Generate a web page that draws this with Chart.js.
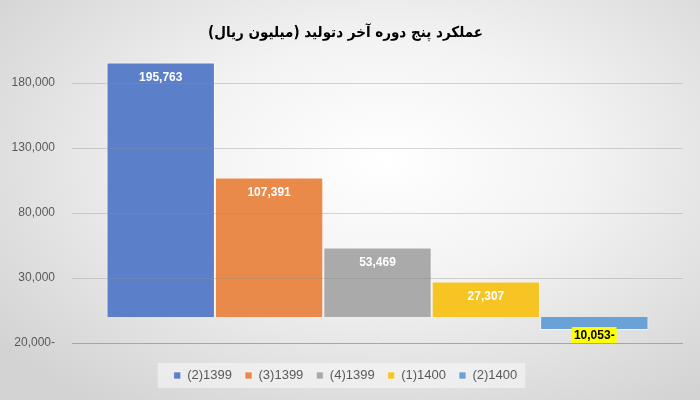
<!DOCTYPE html>
<html>
<head>
<meta charset="utf-8">
<script src="https://cdn.jsdelivr.net/npm/chart.js@4.4.1/dist/chart.umd.min.js"></script>
<style>
  html, body { margin: 0; padding: 0; }
  #wrap {
    width: 700px; height: 400px; position: relative;
    background: radial-gradient(ellipse 70% 75% at 55% 40%, #ffffff 0%, #f3f3f3 40%, #d3d3d3 100%);
  }
</style>
</head>
<body>
<div id="wrap"><canvas id="c" width="700" height="400"></canvas></div>
<script>
/* عملکرد پنج دوره آخر - داده‌ها */
const chartTitle = "عملکرد پنج دوره آخر دتولید (میلیون ریال)";
const periods = ["(2)1399", "(3)1399", "(4)1399", "(1)1400", "(2)1400"];
const values = [195763, 107391, 53469, 27307, -10053];
const yTicks = [-20000, 30000, 80000, 130000, 180000];

const palette = {
  bars: ["#5b80c9", "#ea8a4a", "#aaaaaa", "#f6c524", "#6aa2d7"],
  text: "#595959",
  grid: "rgba(140,140,140,0.35)",
  axis: "#a6a6a6",
};

const fmt = (v) => Math.abs(v).toLocaleString("en-US") + (v < 0 ? "-" : "");

// برچسب مقدار روی ستون‌ها
const valueLabels = {
  id: "valueLabels",
  afterDatasetsDraw(chart) {
    const ctx = chart.ctx;
    ctx.save();
    ctx.font = "bold 12px 'Liberation Sans', Arial, sans-serif";
    ctx.textAlign = "center";
    ctx.textBaseline = "middle";
    chart.data.datasets.forEach((ds, i) => {
      const el = chart.getDatasetMeta(i).data[0];
      const v = ds.data[0];
      const txt = fmt(v);
      if (v >= 0) {
        ctx.fillStyle = "#ffffff";
        ctx.fillText(txt, el.x, el.y + 15);
      } else {
        const w = ctx.measureText(txt).width + 4;
        const cy = el.y + 5;
        ctx.fillStyle = "#ffff00";
        ctx.fillRect(el.x - w / 2, cy - 8, w, 16);
        ctx.fillStyle = "#000000";
        ctx.fillText(txt, el.x, cy + 1);
      }
    });
    ctx.restore();
  },
};

// کادر روشن پشت راهنما
const legendBox = {
  id: "legendBox",
  beforeDraw(chart) {
    const boxes = chart.legend && chart.legend.legendHitBoxes;
    if (!boxes || !boxes.length) return;
    const l = Math.min(...boxes.map((b) => b.left)) - 16;
    const r = Math.max(...boxes.map((b) => b.left + b.width)) + 8;
    const t = Math.min(...boxes.map((b) => b.top)) - 6;
    const btm = Math.max(...boxes.map((b) => b.top + b.height)) + 6;
    const ctx = chart.ctx;
    ctx.save();
    ctx.fillStyle = "rgba(255,255,255,0.45)";
    ctx.fillRect(l, t, r - l, btm - t);
    ctx.restore();
  },
};

new Chart(document.getElementById("c"), {
  type: "bar",
  data: {
    labels: [""],
    datasets: periods.map((p, i) => ({
      label: p,
      data: [values[i]],
      backgroundColor: palette.bars[i],
      borderColor: "rgba(255,255,255,0.55)",
      borderWidth: 1,
      barPercentage: 1,
      categoryPercentage: 0.887,
    })),
  },
  options: {
    responsive: false,
    animation: false,
    layout: { padding: { left: 8, right: 17, top: 0, bottom: 8 } },
    plugins: {
      title: {
        display: true,
        text: "\u202B" + chartTitle + "\u202C",
        color: "#000000",
        font: { family: "'DejaVu Sans Condensed', 'DejaVu Sans', sans-serif", size: 15, weight: "bold" },
        padding: { top: 24, bottom: 15 },
      },
      legend: {
        position: "bottom",
        labels: {
          boxWidth: 7,
          boxHeight: 7,
          padding: 13,
          color: palette.text,
          font: { family: "'Liberation Sans', Arial, sans-serif", size: 13 },
        },
      },
      tooltip: { enabled: false },
    },
    scales: {
      x: {
        display: true,
        grid: { display: false },
        border: { display: false },
        ticks: { display: false },
        afterFit: (axis) => { axis.height = 13; },
      },
      y: {
        min: -20000,
        max: 200000,
        afterBuildTicks: (axis) => { axis.ticks = yTicks.map((v) => ({ value: v })); },
        afterFit: (axis) => { axis.width = 64; },
        grid: {
          z: 1,
          drawTicks: false,
          color: (c) => (c.tick && c.tick.value === -20000 ? palette.axis : palette.grid),
        },
        border: { display: false },
        ticks: {
          padding: 17,
          color: palette.text,
          font: { family: "'Liberation Sans', Arial, sans-serif", size: 12 },
          callback: (v) => fmt(v),
        },
      },
    },
  },
  plugins: [legendBox, valueLabels],
});
</script>
</body>
</html>
